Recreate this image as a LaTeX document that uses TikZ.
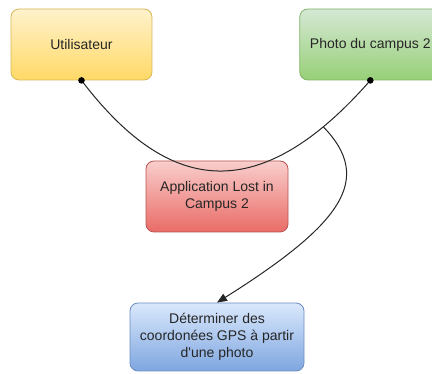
\documentclass[tikz,border=0pt]{standalone}
\usepackage{fontspec}
\setmainfont{Liberation Sans}
\usetikzlibrary{arrows.meta,positioning}

\definecolor{userTop}{HTML}{FFF2CC}
\definecolor{userBot}{HTML}{FFD966}
\definecolor{userLine}{HTML}{D6B656}
\definecolor{photoTop}{HTML}{D5E8D4}
\definecolor{photoBot}{HTML}{97D077}
\definecolor{photoLine}{HTML}{82B366}
\definecolor{appTop}{HTML}{F8CECC}
\definecolor{appBot}{HTML}{EA6B66}
\definecolor{appLine}{HTML}{B85450}
\definecolor{gpsTop}{HTML}{DAE8FC}
\definecolor{gpsBot}{HTML}{7EA6E0}
\definecolor{gpsLine}{HTML}{6C8EBF}

\begin{document}
\begin{tikzpicture}[x=1pt, y=1pt,
    box/.style = {draw, rounded corners=8pt, align=center, line width=0.8pt,
                  text=black!85, font=\fontsize{14}{17}\selectfont, inner sep=0pt},
    user/.style = {box, top color=userTop, bottom color=userBot, draw=userLine,
                   minimum width=141pt, minimum height=71pt},
    photo/.style = {box, top color=photoTop, bottom color=photoBot, draw=photoLine,
                    minimum width=141pt, minimum height=71pt},
    app/.style = {box, top color=appTop, bottom color=appBot, draw=appLine,
                  minimum width=142pt, minimum height=71pt},
    gps/.style = {box, top color=gpsTop, bottom color=gpsBot, draw=gpsLine,
                  minimum width=174pt, minimum height=68pt},
    link/.style = {line width=1pt, black!85}]
    \useasboundingbox (0,0) rectangle (432,-374);

    \node[user] (user) at (81.5,-44.5) {Utilisateur};
    \node[photo] (photo) [right=147pt of user] {Photo du campus 2};

    \node[app] (app) at (217,-196.5) {Application Lost in\\Campus 2};
    \node[gps] (gps) at (217,-337) {Déterminer des\\coordonées GPS à partir\\d\textquotesingle une photo};

    \draw[link] (user.south) .. controls (165,-190) and (255,-212) .. (photo.south)
        coordinate[pos=0.86] (split);
    \fill[black] (user.south) circle (3.3pt);
    \fill[black] (photo.south) circle (3.3pt);

    \draw[link, -{Triangle[length=10pt, width=8pt]}] (split)
        .. controls (375,-180) and (340,-225) .. (gps.north);

\end{tikzpicture}
\end{document}
